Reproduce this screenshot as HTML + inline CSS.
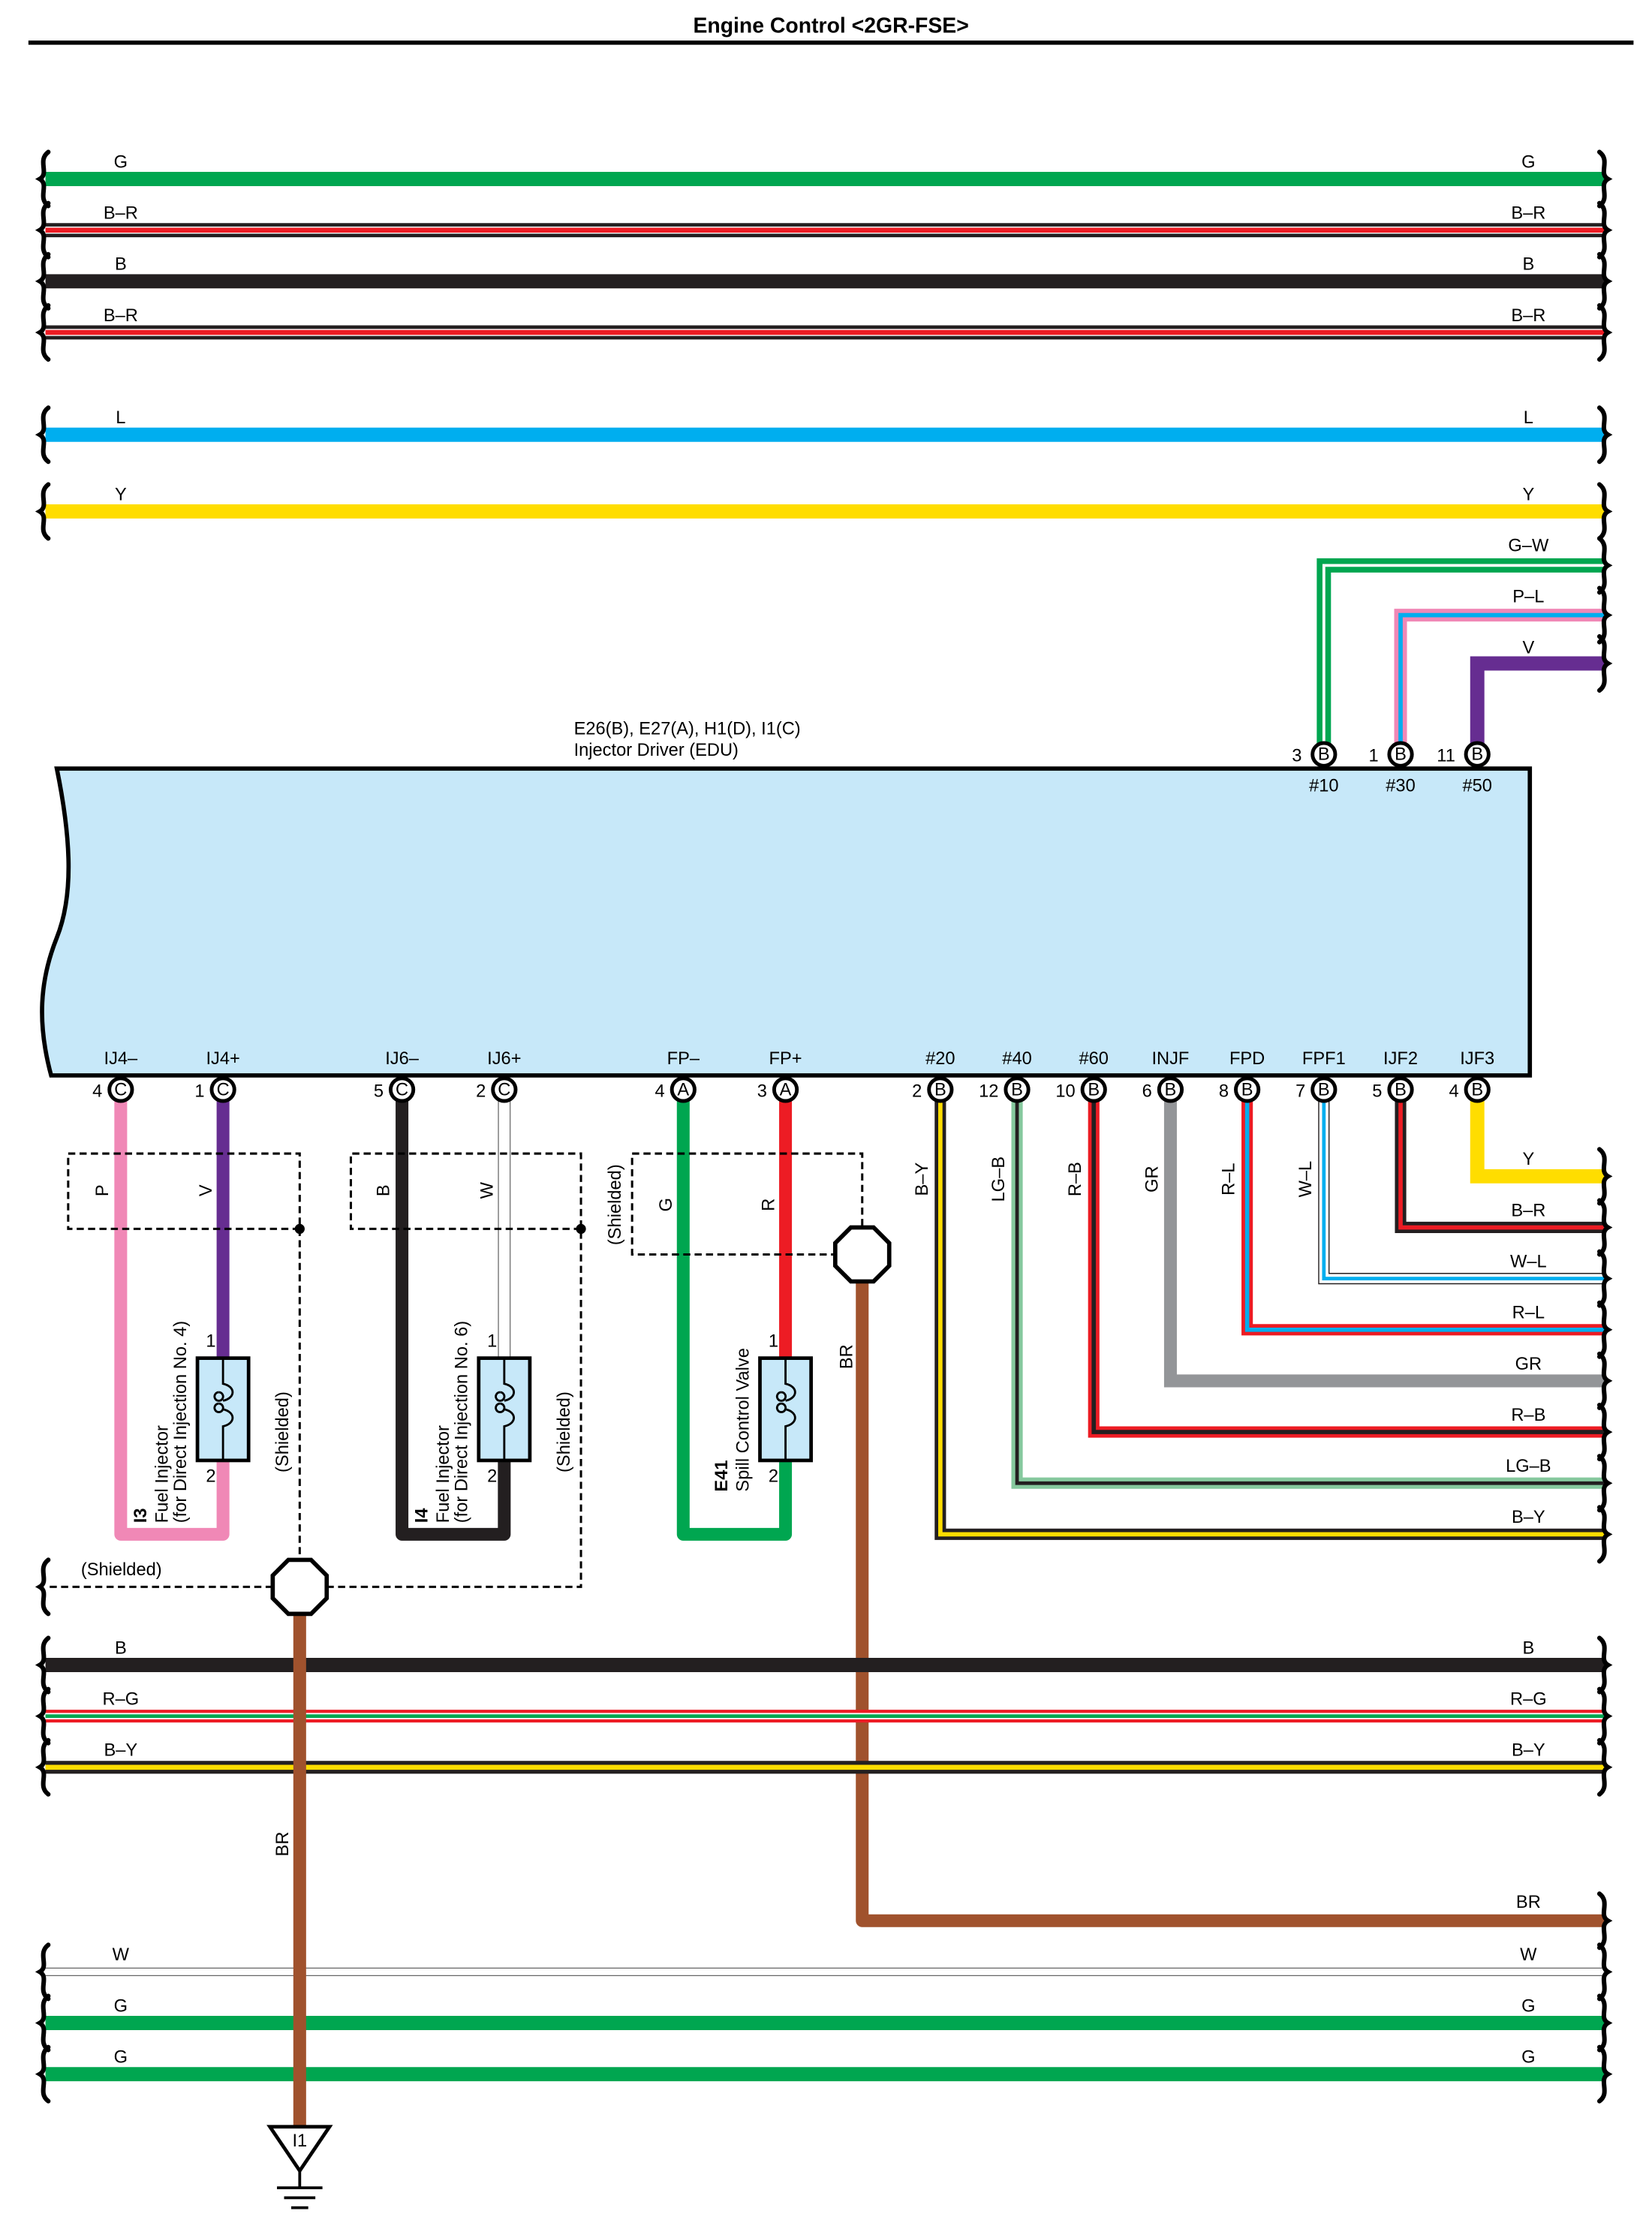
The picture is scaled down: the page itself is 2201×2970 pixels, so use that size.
<!DOCTYPE html>
<html><head><meta charset="utf-8"><style>
html,body{margin:0;padding:0;background:#fff}
svg{display:block}
text{font-family:"Liberation Sans",sans-serif;font-size:12.5px;fill:#000}
</style></head><body>
<svg width="2201" height="2970" viewBox="0 0 1163 1569" preserveAspectRatio="none" xmlns="http://www.w3.org/2000/svg">
<defs>
<path id="bl" d="M4,-19 C-4,-13 5,-4 -2,0 C5,4 -4,13 4,19" fill="none" stroke="#000" stroke-width="3.2" stroke-linecap="round"/>
<path id="br" d="M-4,-19 C4,-13 -5,-4 2,0 C-5,4 4,13 -4,19" fill="none" stroke="#000" stroke-width="3.2" stroke-linecap="round"/>
<g id="pinB"><circle r="8" fill="#fff" stroke="#000" stroke-width="2.6"/></g>
</defs>

<text x="585" y="23" text-anchor="middle" style="font-size:15px;font-weight:bold">Engine Control &lt;2GR-FSE&gt;</text>
<line x1="20" y1="30" x2="1150" y2="30" stroke="#000" stroke-width="3"/>

<g fill="none" stroke-linecap="butt">
<line x1="32" y1="126" x2="1130" y2="126" stroke="#00a650" stroke-width="10"/>
<line x1="32" y1="162" x2="1130" y2="162" stroke="#231f20" stroke-width="10"/>
<line x1="32" y1="162" x2="1130" y2="162" stroke="#fff" stroke-width="5"/>
<line x1="32" y1="162" x2="1130" y2="162" stroke="#ed1c24" stroke-width="3.5"/>
<line x1="32" y1="198" x2="1130" y2="198" stroke="#231f20" stroke-width="10"/>
<line x1="32" y1="234" x2="1130" y2="234" stroke="#231f20" stroke-width="10"/>
<line x1="32" y1="234" x2="1130" y2="234" stroke="#fff" stroke-width="5"/>
<line x1="32" y1="234" x2="1130" y2="234" stroke="#ed1c24" stroke-width="3.5"/>
<line x1="32" y1="306" x2="1130" y2="306" stroke="#00aeef" stroke-width="10"/>
<line x1="32" y1="360" x2="1130" y2="360" stroke="#ffdd00" stroke-width="10"/>
</g>
<use href="#bl" x="30" y="126"/><use href="#bl" x="30" y="162"/><use href="#bl" x="30" y="198"/><use href="#bl" x="30" y="234"/><use href="#bl" x="30" y="306"/><use href="#bl" x="30" y="360"/>
<use href="#br" x="1130" y="126"/><use href="#br" x="1130" y="162"/><use href="#br" x="1130" y="198"/><use href="#br" x="1130" y="234"/><use href="#br" x="1130" y="306"/><use href="#br" x="1130" y="360"/>
<g text-anchor="middle">
<text x="85" y="118">G</text><text x="1076" y="118">G</text>
<text x="85" y="154">B–R</text><text x="1076" y="154">B–R</text>
<text x="85" y="190">B</text><text x="1076" y="190">B</text>
<text x="85" y="226">B–R</text><text x="1076" y="226">B–R</text>
<text x="85" y="298">L</text><text x="1076" y="298">L</text>
<text x="85" y="352">Y</text><text x="1076" y="352">Y</text>
</g>

<g fill="none" stroke-linejoin="miter">
<polyline points="932,525 932,398 1130,398" stroke="#00a650" stroke-width="10"/>
<polyline points="932,525 932,398 1130,398" stroke="#fff" stroke-width="2"/>
<polyline points="986,525 986,433 1130,433" stroke="#f088b6" stroke-width="9"/>
<polyline points="986,525 986,433 1130,433" stroke="#00aeef" stroke-width="3"/>
<polyline points="1040,525 1040,467 1130,467" stroke="#662d91" stroke-width="10"/>
</g>
<use href="#br" x="1130" y="398"/><use href="#br" x="1130" y="433"/><use href="#br" x="1130" y="467"/>
<g text-anchor="middle">
<text x="1076" y="388">G–W</text><text x="1076" y="424">P–L</text><text x="1076" y="460">V</text>
</g>

<path d="M40,541 L1077,541 L1077,757 L36,757 C26,720 28,690 40,660 C52,630 50,590 40,541 Z" fill="#c7e8f9" stroke="#000" stroke-width="3"/>
<text x="404" y="517">E26(B), E27(A), H1(D), I1(C)</text>
<text x="404" y="532">Injector Driver (EDU)</text>

<g>
<use href="#pinB" x="932" y="531"/><use href="#pinB" x="986" y="531"/><use href="#pinB" x="1040" y="531"/>
</g>
<g text-anchor="middle" style="font-size:11.5px">
<text x="932" y="535">B</text><text x="986" y="535">B</text><text x="1040" y="535">B</text>
</g>
<text x="913" y="536" text-anchor="middle">3</text><text x="967" y="536" text-anchor="middle">1</text><text x="1018" y="536" text-anchor="middle">11</text>
<g text-anchor="middle"><text x="932" y="557">#10</text><text x="986" y="557">#30</text><text x="1040" y="557">#50</text></g>

<g text-anchor="middle">
<text x="85" y="749">IJ4–</text><text x="157" y="749">IJ4+</text><text x="283" y="749">IJ6–</text><text x="355" y="749">IJ6+</text>
<text x="481" y="749">FP–</text><text x="553" y="749">FP+</text><text x="662" y="749">#20</text><text x="716" y="749">#40</text>
<text x="770" y="749">#60</text><text x="824" y="749">INJF</text><text x="878" y="749">FPD</text><text x="932" y="749">FPF1</text>
<text x="986" y="749">IJF2</text><text x="1040" y="749">IJF3</text>
</g>

<g fill="none" stroke-linejoin="round">
<polyline points="85,775 85,1080 157,1080 157,1028" stroke="#f088b6" stroke-width="9"/>
<line x1="157" y1="775" x2="157" y2="956" stroke="#662d91" stroke-width="9"/>
<polyline points="283,775 283,1080 355,1080 355,1028" stroke="#231f20" stroke-width="9"/>
<line x1="355" y1="775" x2="355" y2="956" stroke="#777" stroke-width="9"/>
<line x1="355" y1="775" x2="355" y2="956" stroke="#fff" stroke-width="7.5"/>
<polyline points="481,775 481,1080 553,1080 553,1028" stroke="#00a650" stroke-width="9"/>
<line x1="553" y1="775" x2="553" y2="956" stroke="#ed1c24" stroke-width="9"/>
<polyline points="607,902 607,1352 1130,1352" stroke="#a0522d" stroke-width="9"/>
</g>
<use href="#br" x="1130" y="1352"/>
<text x="1076" y="1343" text-anchor="middle">BR</text>
<text transform="translate(600,955) rotate(-90)" text-anchor="middle">BR</text>

<g fill="none" stroke="#000" stroke-width="1.6" stroke-dasharray="5,3">
<path d="M211,865 L48,865 L48,812 L211,812 L211,1100"/>
<path d="M409,865 L247,865 L247,812 L409,812 L409,1117 L230,1117"/>
<path d="M192,1117 L35,1117"/>
<path d="M590,883 L445,883 L445,812 L607,812 L607,864"/>
</g>
<circle cx="211" cy="865" r="3.5"/><circle cx="409" cy="865" r="3.5"/>
<use href="#bl" x="30" y="1117"/>
<text x="57" y="1109">(Shielded)</text>
<g text-anchor="middle">
<text transform="translate(76,838) rotate(-90)">P</text>
<text transform="translate(149,838) rotate(-90)">V</text>
<text transform="translate(274,838) rotate(-90)">B</text>
<text transform="translate(347,838) rotate(-90)">W</text>
<text transform="translate(473,848) rotate(-90)">G</text>
<text transform="translate(545,848) rotate(-90)">R</text>
<text transform="translate(437,848) rotate(-90)">(Shielded)</text>
<text transform="translate(203,1008) rotate(-90)">(Shielded)</text>
<text transform="translate(401,1008) rotate(-90)">(Shielded)</text>
</g>

<g>
<rect x="139" y="956" width="36" height="72" fill="#c7e8f9" stroke="#000" stroke-width="2.5"/>
<rect x="337" y="956" width="36" height="72" fill="#c7e8f9" stroke="#000" stroke-width="2.5"/>
<rect x="535" y="956" width="36" height="72" fill="#c7e8f9" stroke="#000" stroke-width="2.5"/>
</g>
<g fill="none" stroke="#000" stroke-width="1.5">
<path d="M157,956 L157,974 C166,976 166,984 157,986 M154,980 a3,3 0 1 0 0.1,0 M154,988 a3,3 0 1 0 0.1,0 M157,992 C166,994 166,1002 157,1004 L157,1028"/>
<path d="M355,956 L355,974 C364,976 364,984 355,986 M352,980 a3,3 0 1 0 0.1,0 M352,988 a3,3 0 1 0 0.1,0 M355,992 C364,994 364,1002 355,1004 L355,1028"/>
<path d="M553,956 L553,974 C562,976 562,984 553,986 M550,980 a3,3 0 1 0 0.1,0 M550,988 a3,3 0 1 0 0.1,0 M553,992 C562,994 562,1002 553,1004 L553,1028"/>
</g>
<g style="font-size:11.5px">
<text x="145" y="948">1</text><text x="145" y="1043">2</text>
<text x="343" y="948">1</text><text x="343" y="1043">2</text>
<text x="541" y="948">1</text><text x="541" y="1043">2</text>
</g>
<text transform="translate(103,1072) rotate(-90)" style="font-weight:bold">I3</text>
<text transform="translate(118,1072) rotate(-90)">Fuel Injector</text>
<text transform="translate(131,1072) rotate(-90)">(for Direct Injection No. 4)</text>
<text transform="translate(301,1072) rotate(-90)" style="font-weight:bold">I4</text>
<text transform="translate(316,1072) rotate(-90)">Fuel Injector</text>
<text transform="translate(329,1072) rotate(-90)">(for Direct Injection No. 6)</text>
<text transform="translate(512,1050) rotate(-90)" style="font-weight:bold">E41</text>
<text transform="translate(527,1050) rotate(-90)">Spill Control Valve</text>

<g fill="none" stroke-linejoin="miter">
<polyline points="1040,775 1040,828 1130,828" stroke="#ffdd00" stroke-width="10"/>
<polyline points="986,775 986,864 1130,864" stroke="#231f20" stroke-width="8"/>
<polyline points="986,775 986,864 1130,864" stroke="#ed1c24" stroke-width="3"/>
<polyline points="932,775 932,900 1130,900" stroke="#231f20" stroke-width="8"/>
<polyline points="932,775 932,900 1130,900" stroke="#fff" stroke-width="6.5"/>
<polyline points="932,775 932,900 1130,900" stroke="#00aeef" stroke-width="2.5"/>
<polyline points="878,775 878,936 1130,936" stroke="#ed1c24" stroke-width="8"/>
<polyline points="878,775 878,936 1130,936" stroke="#00aeef" stroke-width="3"/>
<polyline points="824,775 824,972 1130,972" stroke="#939598" stroke-width="9"/>
<polyline points="770,775 770,1008 1130,1008" stroke="#ed1c24" stroke-width="8"/>
<polyline points="770,775 770,1008 1130,1008" stroke="#231f20" stroke-width="3"/>
<polyline points="716,775 716,1044 1130,1044" stroke="#86c99e" stroke-width="8"/>
<polyline points="716,775 716,1044 1130,1044" stroke="#231f20" stroke-width="2.5"/>
<polyline points="662,775 662,1080 1130,1080" stroke="#231f20" stroke-width="8"/>
<polyline points="662,775 662,1080 1130,1080" stroke="#ffdd00" stroke-width="3"/>
</g>
<use href="#br" x="1130" y="828"/><use href="#br" x="1130" y="864"/><use href="#br" x="1130" y="900"/><use href="#br" x="1130" y="936"/>
<use href="#br" x="1130" y="972"/><use href="#br" x="1130" y="1008"/><use href="#br" x="1130" y="1044"/><use href="#br" x="1130" y="1080"/>
<g text-anchor="middle">
<text x="1076" y="820">Y</text><text x="1076" y="856">B–R</text><text x="1076" y="892">W–L</text><text x="1076" y="928">R–L</text>
<text x="1076" y="964">GR</text><text x="1076" y="1000">R–B</text><text x="1076" y="1036">LG–B</text><text x="1076" y="1072">B–Y</text>
<text transform="translate(653,830) rotate(-90)">B–Y</text>
<text transform="translate(707,830) rotate(-90)">LG–B</text>
<text transform="translate(761,830) rotate(-90)">R–B</text>
<text transform="translate(815,830) rotate(-90)">GR</text>
<text transform="translate(869,830) rotate(-90)">R–L</text>
<text transform="translate(923,830) rotate(-90)">W–L</text>
</g>

<g>
<use href="#pinB" x="85" y="767"/><use href="#pinB" x="157" y="767"/><use href="#pinB" x="283" y="767"/><use href="#pinB" x="355" y="767"/>
<use href="#pinB" x="481" y="767"/><use href="#pinB" x="553" y="767"/><use href="#pinB" x="662" y="767"/><use href="#pinB" x="716" y="767"/>
<use href="#pinB" x="770" y="767"/><use href="#pinB" x="824" y="767"/><use href="#pinB" x="878" y="767"/><use href="#pinB" x="932" y="767"/>
<use href="#pinB" x="986" y="767"/><use href="#pinB" x="1040" y="767"/>
</g>
<g text-anchor="middle" style="font-size:11.5px">
<text x="85" y="771">C</text><text x="157" y="771">C</text><text x="283" y="771">C</text><text x="355" y="771">C</text>
<text x="481" y="771">A</text><text x="553" y="771">A</text><text x="662" y="771">B</text><text x="716" y="771">B</text>
<text x="770" y="771">B</text><text x="824" y="771">B</text><text x="878" y="771">B</text><text x="932" y="771">B</text>
<text x="986" y="771">B</text><text x="1040" y="771">B</text>
</g>
<g text-anchor="end">
<text x="72" y="772">4</text><text x="144" y="772">1</text><text x="270" y="772">5</text><text x="342" y="772">2</text>
<text x="468" y="772">4</text><text x="540" y="772">3</text><text x="649" y="772">2</text><text x="703" y="772">12</text>
<text x="757" y="772">10</text><text x="811" y="772">6</text><text x="865" y="772">8</text><text x="919" y="772">7</text>
<text x="973" y="772">5</text><text x="1027" y="772">4</text>
</g>

<g fill="none">
<line x1="32" y1="1172" x2="1130" y2="1172" stroke="#231f20" stroke-width="10"/>
<line x1="32" y1="1208" x2="1130" y2="1208" stroke="#ed1c24" stroke-width="9"/>
<line x1="32" y1="1208" x2="1130" y2="1208" stroke="#fff" stroke-width="4.5"/>
<line x1="32" y1="1208" x2="1130" y2="1208" stroke="#00a650" stroke-width="2.5"/>
<line x1="32" y1="1244" x2="1130" y2="1244" stroke="#231f20" stroke-width="9"/>
<line x1="32" y1="1244" x2="1130" y2="1244" stroke="#ffdd00" stroke-width="3.5"/>
<line x1="32" y1="1388" x2="1130" y2="1388" stroke="#666" stroke-width="6"/>
<line x1="32" y1="1388" x2="1130" y2="1388" stroke="#fff" stroke-width="4.6"/>
<line x1="32" y1="1424" x2="1130" y2="1424" stroke="#00a650" stroke-width="10"/>
<line x1="32" y1="1460" x2="1130" y2="1460" stroke="#00a650" stroke-width="10"/>
</g>
<use href="#bl" x="30" y="1172"/><use href="#bl" x="30" y="1208"/><use href="#bl" x="30" y="1244"/><use href="#bl" x="30" y="1388"/><use href="#bl" x="30" y="1424"/><use href="#bl" x="30" y="1460"/>
<use href="#br" x="1130" y="1172"/><use href="#br" x="1130" y="1208"/><use href="#br" x="1130" y="1244"/><use href="#br" x="1130" y="1388"/><use href="#br" x="1130" y="1424"/><use href="#br" x="1130" y="1460"/>
<g text-anchor="middle">
<text x="85" y="1164">B</text><text x="1076" y="1164">B</text>
<text x="85" y="1200">R–G</text><text x="1076" y="1200">R–G</text>
<text x="85" y="1236">B–Y</text><text x="1076" y="1236">B–Y</text>
<text x="85" y="1380">W</text><text x="1076" y="1380">W</text>
<text x="85" y="1416">G</text><text x="1076" y="1416">G</text>
<text x="85" y="1452">G</text><text x="1076" y="1452">G</text>
</g>

<line x1="211" y1="1136" x2="211" y2="1496" stroke="#a0522d" stroke-width="9"/>
<text transform="translate(203,1298) rotate(-90)" text-anchor="middle">BR</text>
<path d="M190,1497 L232,1497 L211,1528 Z" fill="#fff" stroke="#000" stroke-width="2.5"/>
<text x="211" y="1511" text-anchor="middle">I1</text>
<g stroke="#000" stroke-width="2">
<line x1="211" y1="1528" x2="211" y2="1540"/>
<line x1="195" y1="1540" x2="227" y2="1540"/>
<line x1="200" y1="1547" x2="222" y2="1547"/>
<line x1="205" y1="1554" x2="217" y2="1554"/>
</g>

<path d="M203,1098 L219,1098 L230,1109 L230,1125 L219,1136 L203,1136 L192,1125 L192,1109 Z" fill="#fff" stroke="#000" stroke-width="3"/>
<path d="M599,864 L615,864 L626,875 L626,891 L615,902 L599,902 L588,891 L588,875 Z" fill="#fff" stroke="#000" stroke-width="3"/>
</svg>
</body></html>
